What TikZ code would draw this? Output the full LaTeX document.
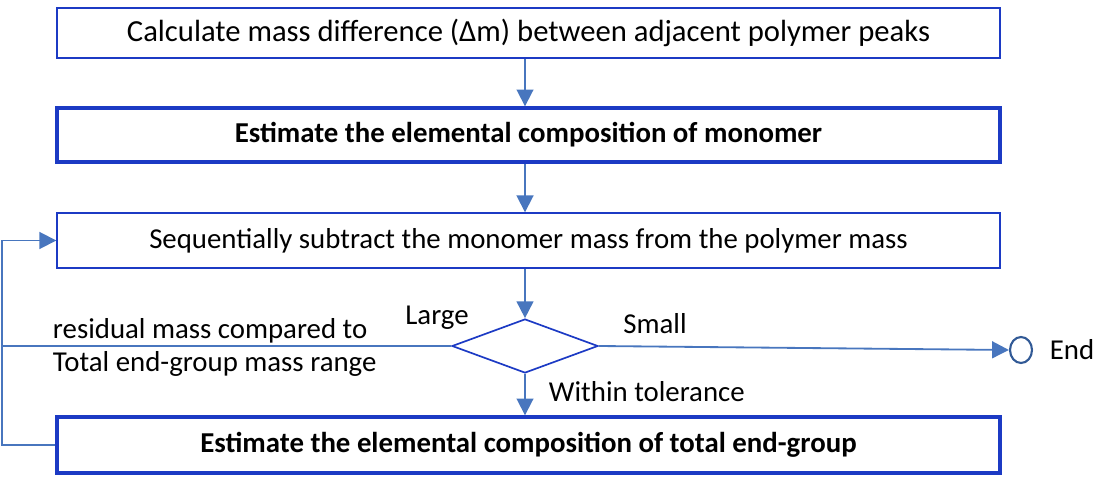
\documentclass[tikz,border=0pt]{standalone}
\usepackage{fontspec}
\setmainfont{Carlito}
\usetikzlibrary{arrows.meta, shapes.geometric, calc}
\definecolor{boxBlue}{RGB}{28, 58, 196}
\definecolor{lineBlue}{RGB}{72, 118, 190}
\definecolor{endBlue}{RGB}{50, 90, 150}

\begin{document}
\begin{tikzpicture}[>={Triangle[length=0.42cm, width=0.42cm]},
  font=\fontsize{20.5}{23}\selectfont,
  stepbox/.style={draw=boxBlue, line width=1pt, minimum width=23.575cm, inner sep=0pt},
  keybox/.style={stepbox, line width=2.4pt, font=\fontsize{20.5}{23}\selectfont\bfseries},
  flow/.style={->, lineBlue, line width=1.3pt}]
  \useasboundingbox (0,0) rectangle (28,-12.075);

  % main steps
  \node[stepbox, minimum height=1.25cm, font=\fontsize{21.8}{24}\selectfont] (calc) at (13.2125,-0.825)
    {Calculate mass difference (Δm) between adjacent polymer peaks};
  \node[keybox, minimum height=1.35cm] (mono) at (13.2125,-3.375)
    {Estimate the elemental composition of monomer};
  \node[stepbox, minimum height=1.375cm] (subtr) at (13.2125,-6.0125)
    {Sequentially subtract the monomer mass from the polymer mass};
  \node[keybox, minimum height=1.4cm] (endgrp) at (13.2125,-11.125)
    {Estimate the elemental composition of total end-group};

  % decision
  \node[diamond, draw=boxBlue, line width=1.2pt, aspect=2.7, inner sep=0pt,
    minimum width=3.65cm, minimum height=1.35cm] (test) at (13.125,-8.65) {};
  \node[ellipse, draw=endBlue, line width=1.5pt, inner sep=0pt,
    minimum width=0.55cm, minimum height=0.65cm] (stop) at (25.525,-8.75) {};
  \node (endlbl) at (26.8,-8.75) {End};
  \coordinate (loop) at (0.06,-8.65);

  \draw[flow] (calc.south -| test) -- (mono.north -| test);
  \draw[flow] (mono.south -| test) -- (subtr.north -| test);
  \draw[flow] (subtr.south -| test) -- (test.north);
  \draw[flow] (test.south) -- (endgrp.north -| test);
  \draw[flow] (test.east) -- (stop.west);
  \draw[lineBlue, line width=1.3pt] (test.west) -- (loop);
  \draw[flow] (endgrp.west) -| (loop) |- (subtr.west);

  % labels
  \node (large) at (10.925,-7.95) {Large};
  \node (small) at (16.375,-8.1) {Small};
  \node[anchor=west] (within) at (13.6,-9.8) {Within tolerance};
  \node[anchor=west] (resid) at (1.2,-8.275) {residual mass compared to};
  \node[anchor=west] (range) at (1.2,-9.1) {Total end-group mass range};
\end{tikzpicture}
\end{document}
